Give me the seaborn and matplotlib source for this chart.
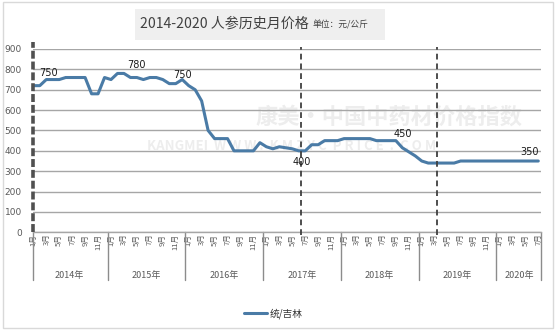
import numpy as np
import pandas as pd
import matplotlib
matplotlib.use("Agg")
import matplotlib.pyplot as plt
import matplotlib.transforms as mtrans
from matplotlib.patches import Rectangle
import seaborn as sns

# ---------------- data ----------------
years = ["2014年", "2015年", "2016年", "2017年", "2018年", "2019年", "2020年"]
p2014 = [720, 720, 750, 750, 750, 760, 760, 760, 760, 680, 680, 760]
p2015 = [750, 780, 780, 760, 760, 750, 760, 760, 750, 730, 730, 750]
p2016 = [720, 700, 645, 500, 460, 460, 460, 400, 400, 400, 400, 440]
p2017 = [420, 410, 420, 415, 410, 400, 400, 430, 430, 450, 450, 450]
p2018 = [460, 460, 460, 460, 460, 450, 450, 450, 450, 415, 395, 375]
p2019 = [350, 340, 340, 340, 340, 340, 350, 350, 350, 350, 350, 350]
p2020 = [350, 350, 350, 350, 350, 350, 350]
series_name = "统/吉林"
title_main = "2014-2020 人参历史月价格"
title_unit = "单位：元/公斤"
label_months = ["2014-03", "2015-02", "2015-12", "2017-06", "2018-09", "2020-07"]
label_texts = ["750", "780", "750", "400", "450", "350"]
marker_months = ["2017-06", "2019-03"]

prices = p2014 + p2015 + p2016 + p2017 + p2018 + p2019 + p2020
year_lens = [len(p) for p in [p2014, p2015, p2016, p2017, p2018, p2019, p2020]]
months = []
for y, n in zip(range(2014, 2021), year_lens):
    months += [f"{y}-{m:02d}" for m in range(1, n + 1)]
df = pd.DataFrame({"month": months, "idx": np.arange(len(months)), "price": prices,
                   "series": series_name})

# ---------------- style ----------------
sns.set_theme(style="white")
plt.rcParams["font.family"] = ["Noto Sans CJK SC", "DejaVu Sans"]
plt.rcParams["axes.unicode_minus"] = False

W, H = 558, 331
fig = plt.figure(figsize=(W / 100, H / 100), dpi=100)
fig.patch.set_facecolor("white")
ax = fig.add_axes([33 / W, 1 - 232.3 / H, (541 - 33) / W, (232.3 - 49) / H])
ax.set_facecolor("none")

line_color = "#4a7ba6"
grid_color = "#a6a6a6"
text_color = "#595959"

# outer border
fig.patches.append(Rectangle((3 / W, 1 - 328 / H), 550 / W, 326 / H, transform=fig.transFigure,
                             fill=False, edgecolor="#d9d9d9", lw=1.0))
# title box
fig.patches.append(Rectangle((135 / W, 1 - 40 / H), 250 / W, 31 / H, transform=fig.transFigure,
                             facecolor="#efefef", edgecolor="none"))
t_main = fig.text(140 / W, 1 - 24 / H, title_main, fontsize=10.1, color="#404040",
                  ha="left", va="center")
fig.canvas.draw()
bb = t_main.get_window_extent()
fig.text((bb.x1 + 4) / W, 1 - 24.5 / H, title_unit, fontsize=6.3, color="#404040",
         ha="left", va="center")

# watermark
ax.text(0.70, 0.63, "康美·中国中药材价格指数", transform=ax.transAxes, fontsize=16,
        fontweight="bold", color="#ededed", ha="center", va="center", zorder=0)
ax.text(0.51, 0.47, "KANGMEI  W W W .  K M Z Y C  P R I C E  .  C O M", transform=ax.transAxes,
        fontsize=9.5, fontweight="bold", color="#ededed", ha="center", va="center", zorder=0)

# gridlines
ax.set_ylim(0, 900)
ax.set_yticks(range(0, 1000, 100))
ax.yaxis.grid(True, color=grid_color, lw=1.0, zorder=1)
ax.xaxis.grid(False)
ax.set_axisbelow(True)

sns.lineplot(data=df, x="idx", y="price", hue="series", palette=[line_color], lw=2.2,
             ax=ax, zorder=3, legend=True)

n = len(months)
ax.set_xlim(-0.05, n - 1 + 0.42)

for s in ["top", "right", "left"]:
    ax.spines[s].set_visible(False)
ax.spines["bottom"].set_color(grid_color)
ax.spines["bottom"].set_linewidth(1.0)

ax.tick_params(axis="y", length=0, pad=8, labelsize=6.5, labelcolor=text_color)
ax.set_yticklabels([str(v) for v in range(0, 1000, 100)], family="DejaVu Sans")

tick_idx = [i for i, m in enumerate(months) if int(m[5:]) % 2 == 1]
ax.set_xticks(tick_idx)
ax.set_xticklabels([f"{int(months[i][5:])}月" for i in tick_idx], rotation=90,
                   fontsize=5.5, color=text_color)
ax.tick_params(axis="x", length=0, pad=1)
for lab in ax.get_xticklabels():
    lab.set_va("top")
    lab.set_ha("center")
ax.set_xlabel("")
ax.set_ylabel("")

trans = mtrans.blended_transform_factory(ax.transData, ax.transAxes)
# year group separators and labels
bounds = [-0.05]
start = 0
for ln in year_lens:
    bounds.append(start + ln - 0.5)
    start += ln
bounds[-1] = n - 1 + 0.42
for b in bounds:
    ax.plot([b, b], [0, -0.26], transform=trans, color="#8c8c8c", lw=1.0, clip_on=False)
start = 0
for yname, ln in zip(years, year_lens):
    ax.text(start + (ln - 1) / 2, -0.233, yname, transform=trans, ha="center", va="center",
            fontsize=6.5, color=text_color)
    start += ln

# dashed markers
ax.plot([0, 0], [0, 1.04], transform=trans, color="#505050", lw=2.6,
        dashes=(2.2, 0.8), clip_on=False, zorder=4)
for mm in marker_months:
    xi = months.index(mm)
    ax.plot([xi + 0.3, xi + 0.3], [-0.015, 1.012], transform=trans, color="#404040", lw=1.3,
            dashes=(3.2, 2.2), clip_on=False, zorder=4)

# data labels (offsets in points from the data point to the label centre)
label_offsets = [(1.3, 4.5), (14, 5.8), (0.3, 3.0), (2.3, -7.8), (5, 4.5), (-6, 6.8)]
for mm, t, (dx, dy) in zip(label_months, label_texts, label_offsets):
    xi = months.index(mm)
    ax.annotate(t, (xi, prices[xi]), xytext=(dx, dy), textcoords="offset points",
                ha="center", va="center", fontsize=7, color="#1a1a1a", zorder=5,
                family="DejaVu Sans")

# legend
leg = ax.legend(loc="center", bbox_to_anchor=(0.49, 0.054), bbox_transform=fig.transFigure,
                frameon=False, fontsize=7, handlelength=2.4, handletextpad=0.3)
for h in leg.get_lines():
    h.set_linewidth(2.2)
for t in leg.get_texts():
    t.set_color("#333333")

fig.savefig("out.png", dpi=100)
